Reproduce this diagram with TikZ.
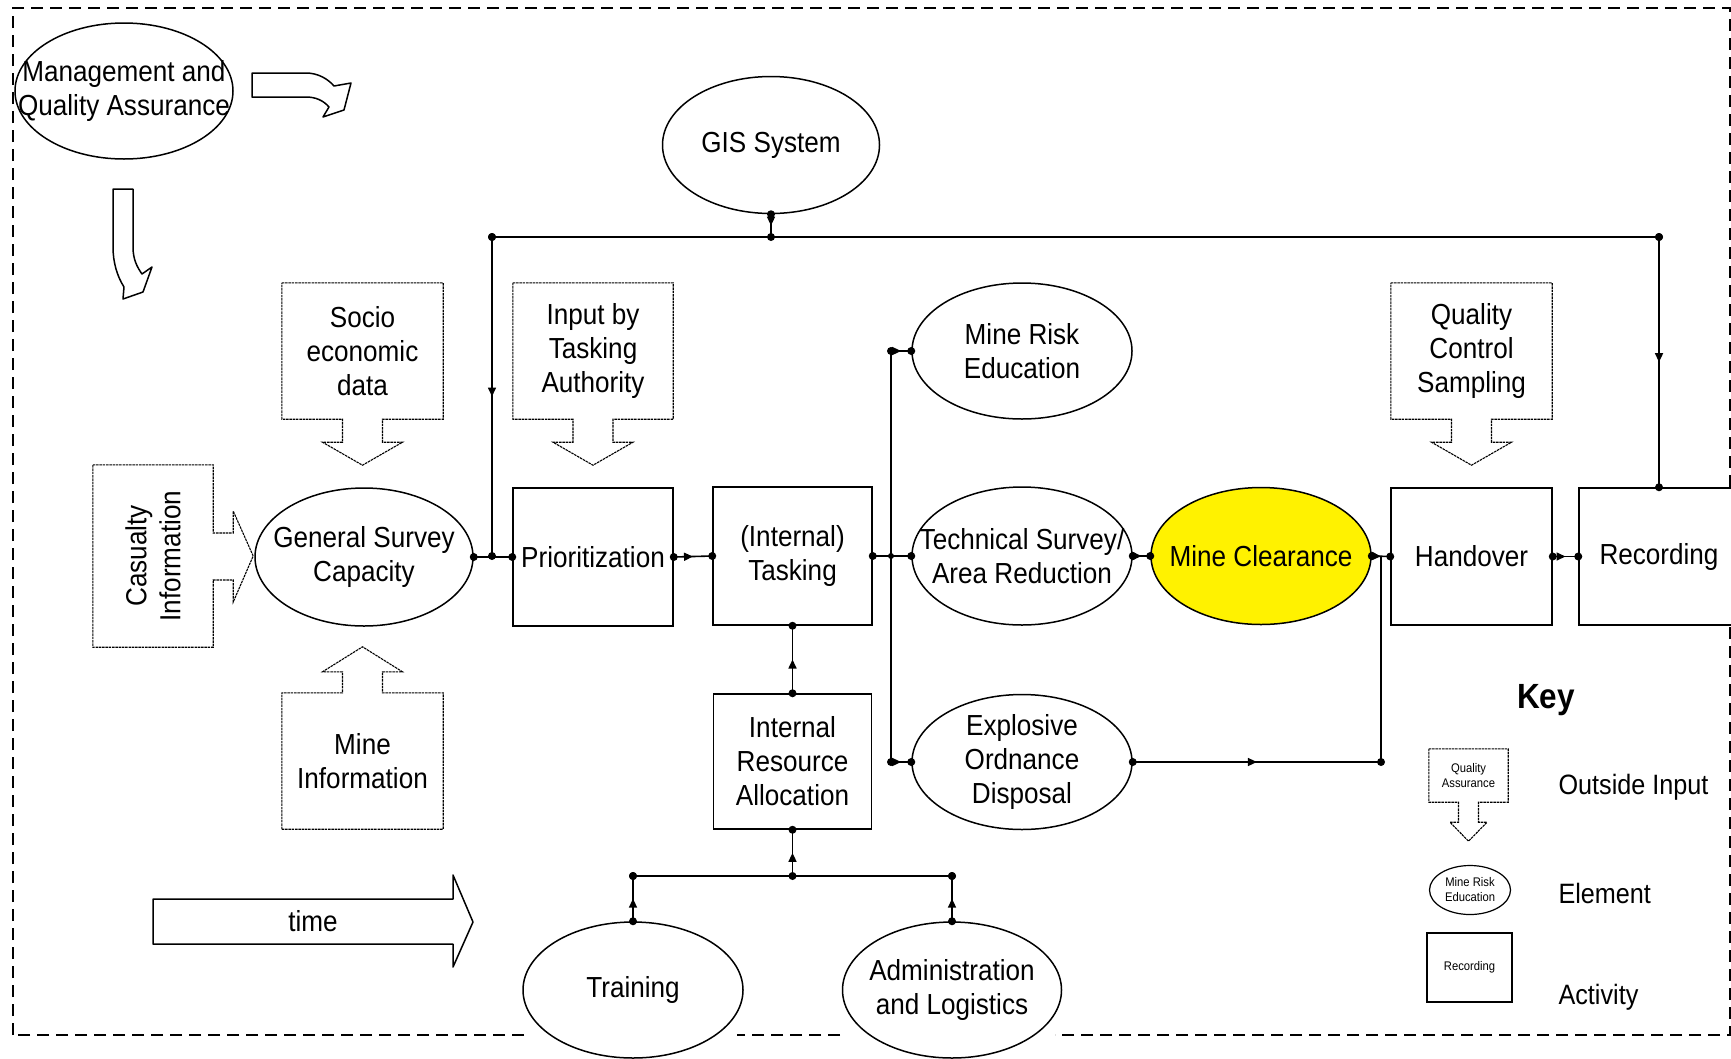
\documentclass[tikz,border=0pt]{standalone}
\usepackage{fontspec}
\setmainfont{Liberation Sans}[FakeStretch=0.9]
\usetikzlibrary{shapes.geometric, arrows.meta, decorations.markings, calc}
\newcommand\mainsz{\fontsize{29}{34}\selectfont}
\newcommand\keysz{\fontsize{12.5}{15}\selectfont}
\newcommand\outdown[5]{\draw[inline] (#1.north west) -- (#1.north east) -- (#1.south east) -- ($(#1.south)+(#2,0)$) -- ($(#1.south)+(#2,#3)$) -- ($(#1.south)+(#4,#3)$) -- ($(#1.south)+(0,#5)$) -- ($(#1.south)+(-#4,#3)$) -- ($(#1.south)+(-#2,#3)$) -- ($(#1.south)+(-#2,0)$) -- (#1.south west) -- cycle;}
\begin{document}
\begin{tikzpicture}[x=1pt,y=-1pt,
 every node/.style={font=\mainsz},
 act/.style={draw, line width=1.5pt, fill=white, rectangle, minimum width=160pt, minimum height=138pt, inner sep=0pt, align=center},
 elem/.style={draw, line width=1.5pt, fill=white, ellipse, minimum width=219pt, minimum height=137pt, inner sep=0pt},
 etext/.style={align=center},
 inbox/.style={rectangle, minimum width=161pt, minimum height=136pt, inner sep=0pt, align=center},
 inline/.style={line width=1.1pt, dash pattern=on 2.5pt off 0.8pt},
 conn/.style={line width=1.6pt},
 dotends/.style={postaction=decorate, decoration={markings, mark=at position 0 with {\fill circle (4pt);}, mark=at position 1 with {\fill circle (4pt);}}},
 flow/.style={conn, postaction=decorate, decoration={markings, mark=at position 0 with {\fill circle (4pt);}, mark=at position 0.5 with {\arrow{Triangle[length=9pt,width=8pt]}}, mark=at position 1 with {\fill circle (4pt);}}},
 blockarrow/.style={line width=1.5pt, line join=round},
 border/.style={line width=1.5pt, dash pattern=on 12pt off 7pt},
 keylabel/.style={anchor=west, font=\fontsize{28}{32}\selectfont}]
\useasboundingbox (0,0) rectangle (1731,1058);
% frame
\draw[border] (13,1035) -- (13,8) -- (1730,8) -- (1730,1035) -- (1055,1035);
\draw[border] (840,1035) -- (737,1035);
\draw[border] (524,1035) -- (13,1035);
% management and curved block arrows
\node[elem, minimum width=218pt, minimum height=136pt, label={[etext]center:{Management and\\Quality Assurance}}] (mqa) at (124,91) {};
\draw[blockarrow] (252,73) -- (306,73) .. controls (318,73) and (328,79) .. (334,86) -- (351,83) -- (344,110) -- (323,117) -- (329,107) .. controls (323,100) and (315,97) .. (306,97) -- (252,97) -- cycle;
\draw[blockarrow] (113,189) -- (133,189) -- (133,247) .. controls (133,259) and (137,267) .. (142,274) -- (152,267) -- (143,292) -- (123,299) -- (124,287) .. controls (117,276) and (113,262) .. (113,247) -- cycle;
% time arrow
\draw[blockarrow] (153,899) -- (453,899) -- (453,875) -- (473,922) -- (453,967) -- (453,944) -- (153,944) -- cycle;
\node (timet) at (313,921) {time};
% outside inputs
\node[inbox] (soc) at (362.5,351) {Socio\\economic\\data};
\outdown{soc}{20}{23}{40}{46}
\node[inbox, minimum width=160pt] (ita) at (593,351) {Input by\\Tasking\\Authority};
\outdown{ita}{20}{23}{40}{46}
\node[inbox] (qcs) at (1471.5,351) {Quality\\Control\\Sampling};
\outdown{qcs}{20}{23}{40}{46}
\node[inbox] (mi) at (362.5,761) {Mine\\Information};
\draw[inline] (mi.south west) -- (mi.south east) -- (mi.north east) -- ($(mi.north)+(20,0)$) -- ($(mi.north)+(20,-21)$) -- ($(mi.north)+(40,-21)$) -- ($(mi.north)+(0,-46)$) -- ($(mi.north)+(-40,-21)$) -- ($(mi.north)+(-20,-21)$) -- ($(mi.north)+(-20,0)$) -- (mi.north west) -- cycle;
\node[inbox, minimum width=120pt, minimum height=182pt, label={[etext, rotate=90]center:{Casualty\\Information}}] (cas) at (153,556) {};
\draw[inline] (cas.north west) -- (cas.north east) -- ($(cas.east)+(0,-23)$) -- ($(cas.east)+(20,-23)$) -- ($(cas.east)+(20,-45)$) -- ($(cas.east)+(40,0)$) -- ($(cas.east)+(20,46)$) -- ($(cas.east)+(20,24)$) -- ($(cas.east)+(0,24)$) -- (cas.south east) -- (cas.south west) -- cycle;
% elements
\node[elem, minimum width=217pt, label={[etext]center:{GIS System}}] (gis) at (771,145) {};
\node[elem, minimum width=218pt, minimum height=138pt, label={[etext]center:{General  Survey\\Capacity}}] (gsc) at (364,557) {};
\node[elem, minimum width=220pt, minimum height=136pt, label={[etext]center:{Mine Risk\\Education}}] (mre) at (1022,351) {};
\node[elem, minimum width=220pt, minimum height=138pt, label={[etext]center:{Technical Survey/\\Area Reduction}}] (ts) at (1022,556) {};
\node[elem, minimum width=220pt, fill=yellow, label={[etext]center:{Mine Clearance}}] (mc) at (1261,556) {};
\node[elem, minimum width=220pt, minimum height=135pt, label={[etext]center:{Explosive\\Ordnance\\Disposal}}] (eod) at (1022,762) {};
\node[elem, minimum width=220pt, minimum height=136pt, label={[etext]center:{Training}}] (tr) at (633,990) {};
\node[elem, minimum width=219pt, minimum height=136pt, label={[etext]center:{Administration\\and Logistics}}] (adm) at (952,990) {};
% activities
\node[act] (prio) at (593,557) {Prioritization};
\node[act, minimum width=159pt] (task) at (792.5,556) {(Internal)\\Tasking};
\node[act, minimum width=158pt, minimum height=135pt] (ira) at (792.5,761.5) {Internal\\Resource\\Allocation};
\node[act, minimum width=161pt, minimum height=137pt] (ho) at (1471.5,556.5) {Handover};
\node[act, minimum width=160pt, minimum height=137pt] (rec) at (1659,556.5) {Recording};
% junction coordinates
\coordinate (busL) at (492,237);
\coordinate (busR) at (1659,237);
\coordinate (busG) at (gis.south |- busL);
\coordinate (gsj) at (492,556);
\coordinate (splT) at (891,351);
\coordinate (splM) at (891,556);
\coordinate (splB) at (891,762);
\coordinate (mcj) at (1381,556);
\coordinate (eodj) at (1381,762);
\coordinate (resj) at (792.5,876);
\coordinate (trj) at (tr.north |- resj);
\coordinate (adj) at (adm.north |- resj);
% connectors
\draw[flow] (gis.south) -- (busG);
\draw[conn, dotends] (busL) -- (busR);
\draw[flow] (busL) -- (gsj);
\draw[conn, dotends] (gsc.east) -- (prio.west);
\fill (gsj) circle (3.5pt);
\draw[flow] (prio.east) -- (task.west);
\draw[conn, dotends] (task.east) -- (ts.west);
\draw[conn] (splT) -- (splB);
\fill (splM) circle (3pt);
\draw[flow] (splT) -- (mre.west);
\draw[flow] (splB) -- (eod.west);
\draw[flow] (ts.east) -- (mc.west);
\draw[flow] (mc.east) -- (ho.west);
\draw[flow] (eod.east) -- (eodj);
\draw[conn] (eodj) -- (mcj);
\draw[flow] (ho.east) -- (rec.west);
\draw[flow] (busR) -- (rec.north);
\draw[flow] (ira.north) -- (task.south);
\draw[flow] (resj) -- (ira.south);
\draw[conn, dotends] (trj) -- (adj);
\draw[flow] (tr.north) -- (trj);
\draw[flow] (adm.north) -- (adj);
% key
\node[font=\fontsize{35}{40}\selectfont\bfseries] (keyt) at (1546,700) {Key};
\node[inbox, minimum width=79pt, minimum height=53pt, font=\keysz] (kin) at (1468.5,775.5) {Quality\\Assurance};
\outdown{kin}{10}{20}{18.5}{39}
\node[elem, line width=1.2pt, minimum width=81pt, minimum height=49pt, label={[etext, font=\keysz]center:{Mine Risk\\Education}}] (kel) at (1470,890) {};
\node[act, line width=1.2pt, minimum width=85pt, minimum height=69pt, font=\keysz] (kact) at (1469.5,967.5) {Recording};
\node[keylabel] (kl1) at (1555,787) {Outside Input};
\node[keylabel] (kl2) at (1555,893) {Element};
\node[keylabel] (kl3) at (1555,997) {Activity};
\end{tikzpicture}
\end{document}
